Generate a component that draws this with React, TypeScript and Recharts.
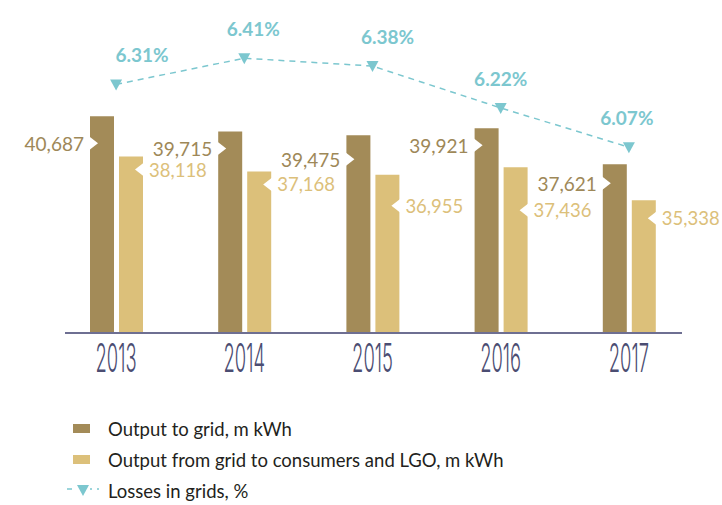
import { Bar, ComposedChart, LabelList, Line, ReferenceLine, XAxis, YAxis } from "recharts";

const years = ["2013", "2014", "2015", "2016", "2017"];
const outputToGrid = [40687, 39715, 39475, 39921, 37621];
const outputToConsumers = [38118, 37168, 36955, 37436, 35338];
const losses = [6.31, 6.41, 6.38, 6.22, 6.07];

const legendItems = [
  { key: "grid", label: "Output to grid, m kWh" },
  { key: "consumers", label: "Output from grid to consumers and LGO, m kWh" },
  { key: "losses", label: "Losses in grids, %" },
];

// label nudges (layout only)
const darkLabelDy = [27, 17, 24, 17, 19];
const lightLabelDy = [13, 13, 31, 43, 18];
const pctLabelDx = [26, 9, 15, 0, -2];

const DARK = "#a38b58";
const LIGHT = "#dcc07a";
const TEAL = "#7cc7cf";
const AXIS = "#6e6f92";
const FONT = "Lato, 'Open Sans', sans-serif";

const data = years.map((year, i) => ({
  year,
  grid: outputToGrid[i],
  consumers: outputToConsumers[i],
  losses: losses[i],
}));

const fmt = (v: number) => v.toLocaleString("en-US");

function DarkLabel(props: any) {
  const { x, y, index, value } = props;
  const ly = y + darkLabelDy[index];
  return (
    <g>
      <polygon points={`${x - 1},${ly - 7} ${x + 8},${ly} ${x - 1},${ly + 7}`} fill="#fff" />
      <text x={x - 6} y={ly} textAnchor="end" dominantBaseline="central" fill="#9e8858" fontSize={19} fontFamily={FONT}>
        {fmt(value)}
      </text>
    </g>
  );
}

function LightLabel(props: any) {
  const { x, y, width, index, value } = props;
  const ly = y + lightLabelDy[index];
  const r = x + width;
  return (
    <g>
      <polygon points={`${r + 1},${ly - 7} ${r - 8},${ly} ${r + 1},${ly + 7}`} fill="#fff" />
      <text x={r + 6} y={ly} textAnchor="start" dominantBaseline="central" fill={LIGHT} fontSize={18.5} fontFamily={FONT}>
        {fmt(value)}
      </text>
    </g>
  );
}

function PctLabel(props: any) {
  const { x, y, index, value } = props;
  return (
    <text x={x + pctLabelDx[index]} y={y - 22} textAnchor="middle" fill={TEAL} fontSize={19} fontWeight={700} fontFamily={FONT}>
      {value.toFixed(2)}%
    </text>
  );
}

function TriangleDot(props: any) {
  const { cx, cy } = props;
  if (cx == null || cy == null) return null;
  return <polygon points={`${cx - 6},${cy - 5} ${cx + 6},${cy - 5} ${cx},${cy + 6}`} fill={TEAL} />;
}

function YearTick(props: any) {
  const { x, y, payload } = props;
  return (
    <g transform={`translate(${x},${y})`}>
      <text
        y={31}
        textAnchor="middle"
        transform="scale(0.46,1)"
        fill="#4b4d72"
        fontSize={40}
        fontWeight={300}
        fontFamily="Inter, 'DejaVu Sans', sans-serif"
      >
        {payload.value}
      </text>
    </g>
  );
}

function AxisLineShape(props: any) {
  const { x1, y1, x2, y2 } = props;
  return <line x1={x1 + 13} y1={y1} x2={x2 - 11} y2={y2} stroke={AXIS} strokeWidth={2} />;
}

function LegendIcon({ kind }: { kind: string }) {
  if (kind === "losses") {
    return (
      <svg width={32} height={14} style={{ display: "block" }}>
        <line x1={0} y1={5} x2={32} y2={5} stroke={TEAL} strokeWidth={1.5} strokeDasharray="5 5" />
        <rect x={9} y={0} width={14} height={12} fill="#fff" />
        <polygon points="10,1 22,1 16,12" fill={TEAL} />
      </svg>
    );
  }
  return (
    <svg width={32} height={14} style={{ display: "block" }}>
      <rect x={6} y={2} width={17} height={9} fill={kind === "grid" ? DARK : LIGHT} />
    </svg>
  );
}

export default function App() {
  return (
    <div style={{ position: "absolute", left: 0, top: 0, width: 722, height: 505, background: "#fff" }}>
      <ComposedChart width={722} height={505} data={data} margin={{ top: 20, right: 29, left: 52, bottom: 122 }} barGap={5}>
        <XAxis dataKey="year" axisLine={false} tickLine={false} height={50} tick={<YearTick />} interval={0} />
        <YAxis yAxisId="v" hide domain={[26900, 46800]} allowDataOverflow />
        <YAxis yAxisId="p" hide orientation="right" domain={[5.36, 6.556]} allowDataOverflow />
        <Bar yAxisId="v" dataKey="grid" fill={DARK} barSize={24} isAnimationActive={false}>
          <LabelList dataKey="grid" content={<DarkLabel />} />
        </Bar>
        <Bar yAxisId="v" dataKey="consumers" fill={LIGHT} barSize={24} isAnimationActive={false}>
          <LabelList dataKey="consumers" content={<LightLabel />} />
        </Bar>
        <ReferenceLine yAxisId="v" y={26900} shape={<AxisLineShape />} />
        <Line
          yAxisId="p"
          dataKey="losses"
          type="linear"
          stroke={TEAL}
          strokeWidth={1.5}
          strokeDasharray="6 5"
          dot={<TriangleDot />}
          activeDot={false}
          isAnimationActive={false}
        >
          <LabelList dataKey="losses" content={<PctLabel />} />
        </Line>
      </ComposedChart>
      <div style={{ position: "absolute", left: 67, top: 413, fontFamily: FONT, fontSize: 18.5, color: "#231f20" }}>
        {legendItems.map((item) => (
          <div key={item.key} style={{ display: "flex", alignItems: "center", height: 31 }}>
            <LegendIcon kind={item.key} />
            <span style={{ marginLeft: 9 }}>{item.label}</span>
          </div>
        ))}
      </div>
    </div>
  );
}
